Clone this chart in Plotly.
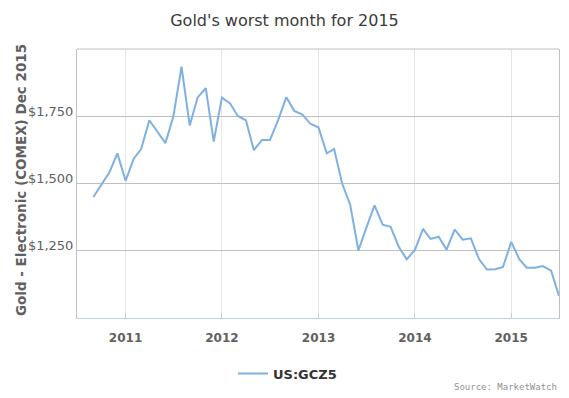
import plotly.graph_objects as go
import pandas as pd

dates = pd.date_range("2010-09-01", "2015-07-01", freq="MS").strftime("%Y-%m-%d").tolist()
prices = [1450, 1493, 1542, 1612, 1510, 1592, 1628, 1735, 1691, 1650, 1749, 1934,
          1716, 1820, 1854, 1656, 1819, 1798, 1751, 1735, 1624, 1662, 1662, 1736,
          1821, 1770, 1756, 1722, 1708, 1612, 1628, 1498, 1421, 1251, 1335, 1419,
          1347, 1339, 1265, 1218, 1253, 1331, 1294, 1302, 1254, 1329, 1291, 1296,
          1219, 1180, 1181, 1190, 1283, 1218, 1187, 1187, 1193, 1176, 1082]
series_name = "US:GCZ5"
title_text = "Gold's worst month for 2015"
y_title = "Gold - Electronic (COMEX) Dec 2015"
y_ticks = [1250, 1500, 1750]
y_ticklabels = ["$1,250", "$1,500", "$1,750"]
x_ticks = ["2011-01-01", "2012-01-01", "2013-01-01", "2014-01-01", "2015-01-01"]
x_ticklabels = ["2011", "2012", "2013", "2014", "2015"]

fig = go.Figure()
fig.add_trace(go.Scatter(x=dates, y=prices, mode="lines", name=series_name,
                         line=dict(color="#7eb1e2", width=2)))

fig.update_layout(
    width=569, height=398,
    margin=dict(l=77, r=10, t=49, b=78),
    paper_bgcolor="white", plot_bgcolor="white",
    title=dict(text=title_text, x=0.5, xanchor="center", y=1 - 20 / 398, yanchor="middle",
               font=dict(family="DejaVu Sans", size=16, color="#3a3a3a")),
    showlegend=True,
    legend=dict(orientation="h", x=(233 - 77) / 482, xanchor="left", y=-(376 - 320) / 271,
                yanchor="middle",
                font=dict(family="DejaVu Sans", size=13, color="#333333", weight="bold"),
                bgcolor="rgba(0,0,0,0)"),
    font=dict(family="DejaVu Sans"),
)
fig.update_xaxes(range=["2010-07-01", "2015-07-01"], tickvals=x_ticks, ticktext=x_ticklabels,
                 showgrid=True, gridcolor="#e6e6e6", gridwidth=1,
                 showline=True, linecolor="#C0D0E0", linewidth=1,
                 ticks="inside", ticklen=5, tickcolor="#C0D0E0",
                 ticklabelstandoff=9,
                 tickfont=dict(family="DejaVu Sans", size=12, color="#606060", weight="bold"),
                 zeroline=False)
fig.update_yaxes(range=[1000, 2000], tickvals=y_ticks, ticktext=y_ticklabels,
                 showgrid=True, gridcolor="#c0c0c0", gridwidth=1,
                 showline=True, linecolor="#c0c0c0", linewidth=1, mirror=True,
                 ticks="", ticklabelshift=-5,
                 tickfont=dict(family="DejaVu Sans", size=13, color="#606060"),
                 zeroline=False)
fig.add_shape(type="line", xref="paper", yref="paper", x0=0, x1=1, y0=1, y1=1,
              line=dict(color="#c0c0c0", width=1))
fig.add_annotation(text=y_title, xref="paper", yref="paper", x=-(77 - 21) / 482, y=(320 - 181) / 271,
                   xanchor="center", yanchor="middle", textangle=-90, showarrow=False,
                   font=dict(family="DejaVu Sans", size=13.5, color="#606060", weight="bold"))
fig.add_annotation(text="Source: MarketWatch", xref="paper", yref="paper", x=1, y=-(390 - 320) / 271,
                   xanchor="right", yanchor="middle", showarrow=False,
                   font=dict(family="DejaVu Sans Mono", size=9, color="#909090"))

fig.write_html("out.html")
